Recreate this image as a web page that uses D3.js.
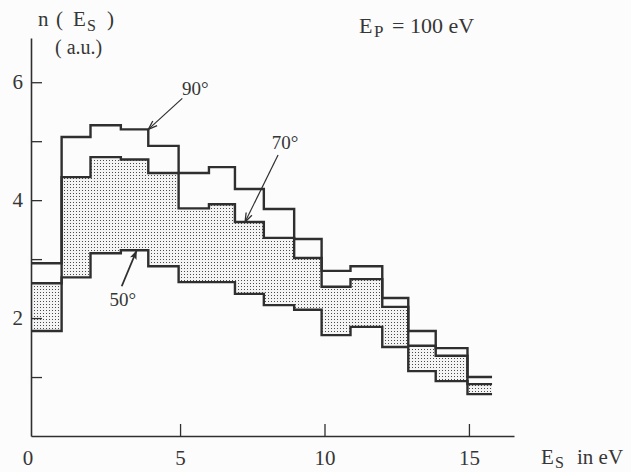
<!DOCTYPE html>
<html>
<head>
<meta charset="utf-8">
<script src="https://cdn.jsdelivr.net/npm/d3@7"></script>
<style>
  html, body { margin: 0; padding: 0; background: #fcfcfc; }
  svg { display: block; }
  text { font-family: "Liberation Serif", "DejaVu Serif", serif; fill: #363636; }
</style>
</head>
<body>
<svg id="chart" width="631" height="472"></svg>
<script>
// Energy bin edges (eV) of the secondary-electron histogram
const binEdges = [-0.15, 0.9, 1.9, 2.95, 3.9, 4.95, 6.0, 6.9, 7.9, 8.95, 9.9, 10.9, 12.0, 12.9, 13.85, 14.95, 15.8];

// n(Es) in arbitrary units, one value per bin, for three emission angles
const n90 = [2.93, 5.07, 5.27, 5.20, 4.92, 4.46, 4.56, 4.19, 3.85, 3.34, 2.80, 2.88, 2.34, 1.78, 1.49, 1.00];
const n70 = [2.59, 4.39, 4.73, 4.69, 4.46, 3.86, 3.93, 3.63, 3.36, 3.02, 2.53, 2.66, 2.19, 1.53, 1.36, 0.88];
const n50 = [1.78, 2.69, 3.10, 3.15, 2.88, 2.61, 2.61, 2.41, 2.22, 2.14, 1.71, 1.85, 1.51, 1.10, 0.93, 0.71];

// Axis ticks
const xTicks = [0, 5, 10, 15];
const yTicks = [1, 2, 3, 4, 5, 6];
const yTickLabels = [2, 4, 6];

// Angle labels: arrow tip on a curve (bin edge / series value), label offset in px
const angleNotes = [
  { text: "90°", tipE: binEdges[4], tipN: n90[3], tail: [34, -31], label: [47, -34], head: "open" },
  { text: "70°", tipE: 7.25,        tipN: n70[7], tail: [33, -67], label: [40, -73], head: "open" },
  { text: "50°", tipE: 3.5,         tipN: n50[3], tail: [-15, 36], label: [-14, 56], head: "solid" }
];

const svg = d3.select("#chart");
const ink = "#2f2f2f";

const x = d3.scaleLinear().domain([-0.16, 16.56]).range([31, 514]);
const y = d3.scaleLinear().domain([0, 6.75]).range([436, 38]);

// dotted shading between the 70° and 50° curves
const defs = svg.append("defs");
const pat = defs.append("pattern")
  .attr("id", "dots").attr("width", 3).attr("height", 3)
  .attr("patternUnits", "userSpaceOnUse");
pat.append("rect").attr("width", 3).attr("height", 3).attr("fill", "#f4f4f4");
pat.append("rect").attr("x", 1).attr("y", 1).attr("width", 1).attr("height", 1).attr("fill", "#4a4a4a");

// arrow heads
defs.append("marker")
  .attr("id", "openHead").attr("viewBox", "-10 -5 12 10")
  .attr("refX", 0).attr("refY", 0).attr("markerWidth", 12).attr("markerHeight", 10)
  .attr("markerUnits", "userSpaceOnUse").attr("orient", "auto")
  .append("path").attr("d", "M-9,-3.2L0,0L-9,3.2").attr("fill", "none")
  .attr("stroke", ink).attr("stroke-width", 1.3);
defs.append("marker")
  .attr("id", "solidHead").attr("viewBox", "-10 -5 12 10")
  .attr("refX", 0).attr("refY", 0).attr("markerWidth", 12).attr("markerHeight", 10)
  .attr("markerUnits", "userSpaceOnUse").attr("orient", "auto")
  .append("path").attr("d", "M-9,-3.5L0,0L-9,3.5L-7,0Z").attr("fill", ink);

// step points: each bin value starts at its left edge; the last value runs to the final edge
function stepPoints(vals) {
  const pts = vals.map((v, i) => [binEdges[i], v]);
  pts.push([binEdges[binEdges.length - 1], vals[vals.length - 1]]);
  return pts;
}

const band = n70.map((v, i) => ({ e: binEdges[i], hi: v, lo: n50[i] }));
band.push({ e: binEdges[binEdges.length - 1], hi: n70[n70.length - 1], lo: n50[n50.length - 1] });

svg.append("path")
  .datum(band)
  .attr("fill", "url(#dots)")
  .attr("d", d3.area().curve(d3.curveStepAfter)
    .x(d => x(d.e)).y0(d => y(d.lo)).y1(d => y(d.hi)));

const line = d3.line().curve(d3.curveStepAfter).x(d => x(d[0])).y(d => y(d[1]));
[n50, n70, n90].forEach(series => {
  svg.append("path")
    .datum(stepPoints(series))
    .attr("fill", "none")
    .attr("stroke", ink)
    .attr("stroke-width", 2.4)
    .attr("stroke-linejoin", "miter")
    .attr("d", line);
});

// x axis: ticks point up, no tick mark at 0
const xAxis = svg.append("g")
  .attr("transform", "translate(0,436)")
  .call(d3.axisBottom(x).tickValues(xTicks).tickFormat(d3.format("d"))
    .tickSizeInner(-12).tickSizeOuter(0).tickPadding(14));
xAxis.select(".domain").attr("stroke", ink).attr("stroke-width", 1.6);
xAxis.selectAll(".tick line").attr("stroke", ink).attr("stroke-width", 1.3)
  .filter(d => d === 0).remove();
xAxis.selectAll(".tick text")
  .attr("font-size", 21).attr("font-family", "Liberation Serif").attr("fill", "#363636")
  .attr("dx", d => d === 0 ? -8 : 0);

// y axis: ticks point right, labels at even values only
const yAxis = svg.append("g")
  .attr("transform", "translate(31,0)")
  .call(d3.axisLeft(y).tickValues(yTicks)
    .tickFormat(d => yTickLabels.includes(d) ? d : "")
    .tickSizeInner(-11).tickSizeOuter(0).tickPadding(8));
yAxis.select(".domain").attr("stroke", ink).attr("stroke-width", 1.6);
yAxis.selectAll(".tick line").attr("stroke", ink).attr("stroke-width", 1.3);
yAxis.selectAll(".tick text")
  .attr("font-size", 21).attr("font-family", "Liberation Serif").attr("fill", "#363636");

// y axis title: n(E_S), (a.u.)
const yt = svg.append("text").attr("font-size", 21).attr("y", 26);
yt.append("tspan").attr("x", 38).text("n");
yt.append("tspan").attr("x", 56).text("(");
yt.append("tspan").attr("x", 73).text("E");
yt.append("tspan").attr("x", 87).attr("dy", 5).attr("font-size", 16).text("S");
yt.append("tspan").attr("x", 107).attr("dy", -5).text(")");
svg.append("text").attr("font-size", 20).attr("x", 55).attr("y", 54).text("( a.u.)");

// x axis title: E_S in eV
const xt = svg.append("text").attr("font-size", 21).attr("y", 464);
xt.append("tspan").attr("x", 541).text("E");
xt.append("tspan").attr("x", 555).attr("dy", 4).attr("font-size", 16).text("S");
xt.append("tspan").attr("x", 577).attr("dy", -4).text("in eV");

// primary energy
const ep = svg.append("text").attr("font-size", 22).attr("y", 33);
ep.append("tspan").attr("x", 359).text("E");
ep.append("tspan").attr("x", 374).attr("dy", 4).attr("font-size", 17).text("P");
ep.append("tspan").attr("x", 392).attr("dy", -4).text("= 100 eV");

// angle labels with arrows
angleNotes.forEach(a => {
  const tx = x(a.tipE), ty = y(a.tipN);
  svg.append("line")
    .attr("x1", tx + a.tail[0]).attr("y1", ty + a.tail[1])
    .attr("x2", tx).attr("y2", ty)
    .attr("stroke", ink)
    .attr("stroke-width", a.head === "solid" ? 1.8 : 1.2)
    .attr("marker-end", a.head === "solid" ? "url(#solidHead)" : "url(#openHead)");
  svg.append("text")
    .attr("x", tx + a.label[0]).attr("y", ty + a.label[1])
    .attr("text-anchor", "middle").attr("font-size", 19)
    .text(a.text);
});
</script>
</body>
</html>
